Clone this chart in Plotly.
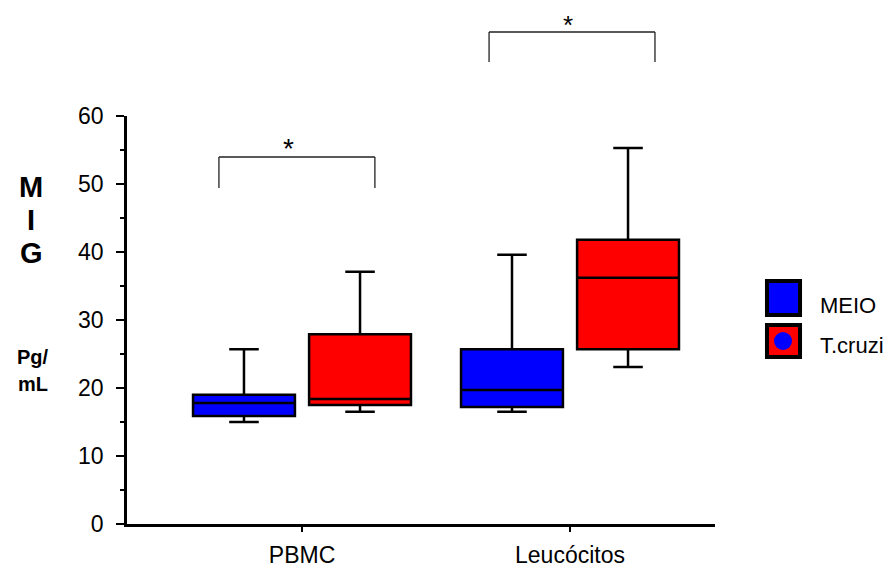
import plotly.graph_objects as go

categories = ["PBMC", "Leucócitos"]
series_names = ["MEIO", "T.cruzi"]

meio_lower = [15.0, 16.5]
meio_q1 = [15.9, 17.2]
meio_median = [17.8, 19.7]
meio_q3 = [19.0, 25.7]
meio_upper = [25.7, 39.6]

tcruzi_lower = [16.5, 23.1]
tcruzi_q1 = [17.5, 25.7]
tcruzi_median = [18.4, 36.2]
tcruzi_q3 = [27.9, 41.8]
tcruzi_upper = [37.1, 55.3]

y_ticks = [0, 10, 20, 30, 40, 50, 60]

FONT = "Liberation Sans, Arial, sans-serif"

fig = go.Figure()
fig.add_trace(go.Box(
    name=series_names[0], x=categories,
    lowerfence=meio_lower, q1=meio_q1, median=meio_median, q3=meio_q3, upperfence=meio_upper,
    fillcolor="#0000FF", line=dict(color="black", width=2.5),
    whiskerwidth=0.29, boxpoints=False, showlegend=False, hoverinfo="skip"))
fig.add_trace(go.Box(
    name=series_names[1], x=categories,
    lowerfence=tcruzi_lower, q1=tcruzi_q1, median=tcruzi_median, q3=tcruzi_q3, upperfence=tcruzi_upper,
    fillcolor="#FF0000", line=dict(color="black", width=2.5),
    whiskerwidth=0.29, boxpoints=False, showlegend=False, hoverinfo="skip"))

fig.update_layout(
    width=885, height=561,
    margin=dict(l=119, r=178, t=108, b=45, autoexpand=False),
    paper_bgcolor="white", plot_bgcolor="white",
    boxmode="group", boxgap=0.134, boxgroupgap=0.122,
    font=dict(family=FONT, color="black"),
    showlegend=False,
    xaxis=dict(type="category", range=[-0.653, 1.541], showline=True, linewidth=2.5, linecolor="black",
               ticks="outside", ticklen=5, tickwidth=2, tickcolor="black", showgrid=False, automargin=False,
               tickfont=dict(size=23, family=FONT), ticklabelstandoff=4),
    yaxis=dict(range=[0, 60], tickvals=y_ticks, showline=True, linewidth=2.5, linecolor="black",
               ticks="outside", ticklen=8, tickwidth=2, tickcolor="black", showgrid=False, zeroline=False,
               automargin=False, tickfont=dict(size=23, family=FONT), ticklabelstandoff=8,
               minor=dict(tickvals=[5, 15, 25, 35, 45, 55], ticks="outside", ticklen=4, tickwidth=1.5, tickcolor="black")),
)

shapes = []
def bracket(x0, x1, ytop, yend):
    for (a, b, c, d) in [(x0, yend, x0, ytop), (x0, ytop, x1, ytop), (x1, ytop, x1, yend)]:
        shapes.append(dict(type="line", xref="x", yref="paper", x0=a, y0=b, x1=c, y1=d,
                           line=dict(color="#222222", width=1.3)))
bracket(-0.31, 0.272, 0.8995, 0.8235)
bracket(0.698, 1.317, 1.2059, 1.1324)

# legend
shapes.append(dict(type="rect", xref="paper", yref="paper", x0=1.0884, x1=1.1446, y0=0.5956, y1=0.5123,
                   fillcolor="#0000FF", line=dict(color="black", width=4)))
shapes.append(dict(type="rect", xref="paper", yref="paper", x0=1.0884, x1=1.1446, y0=0.4877, y1=0.4093,
                   fillcolor="#FF0000", line=dict(color="black", width=4)))
shapes.append(dict(type="circle", xref="paper", yref="paper", x0=1.1003, x1=1.1310, y0=0.4706, y1=0.4265,
                   fillcolor="#0000FF", line=dict(width=0)))
fig.update_layout(shapes=shapes)

def py(p):
    return (524 - p) / 408.0

def px(p):
    return (p - 127) / 588.0

ann = []
def txt(x, y, s, size, bold=False, xref="paper", xanchor="center", yanchor="middle"):
    ann.append(dict(x=x, y=y, xref=xref, yref="paper", text=("<b>%s</b>" % s) if bold else s,
                    showarrow=False, font=dict(size=size, family=FONT, color="black"),
                    xanchor=xanchor, yanchor=yanchor))
txt(px(31), py(187), "M", 29, True)
txt(px(31), py(220), "I", 29, True)
txt(px(31), py(253), "G", 29, True)
txt(px(33), py(357), "Pg/", 20, True)
txt(px(33), py(384), "mL", 20, True)
txt(-0.052, py(148), "*", 28, xref="x")
txt(0.993, py(8), "*", 26, xref="x", yanchor="top")
txt(px(818), py(305), series_names[0], 22, xanchor="left")
txt(px(818), py(345), series_names[1], 22, xanchor="left")
fig.update_layout(annotations=ann)

fig.write_html("out.html")
